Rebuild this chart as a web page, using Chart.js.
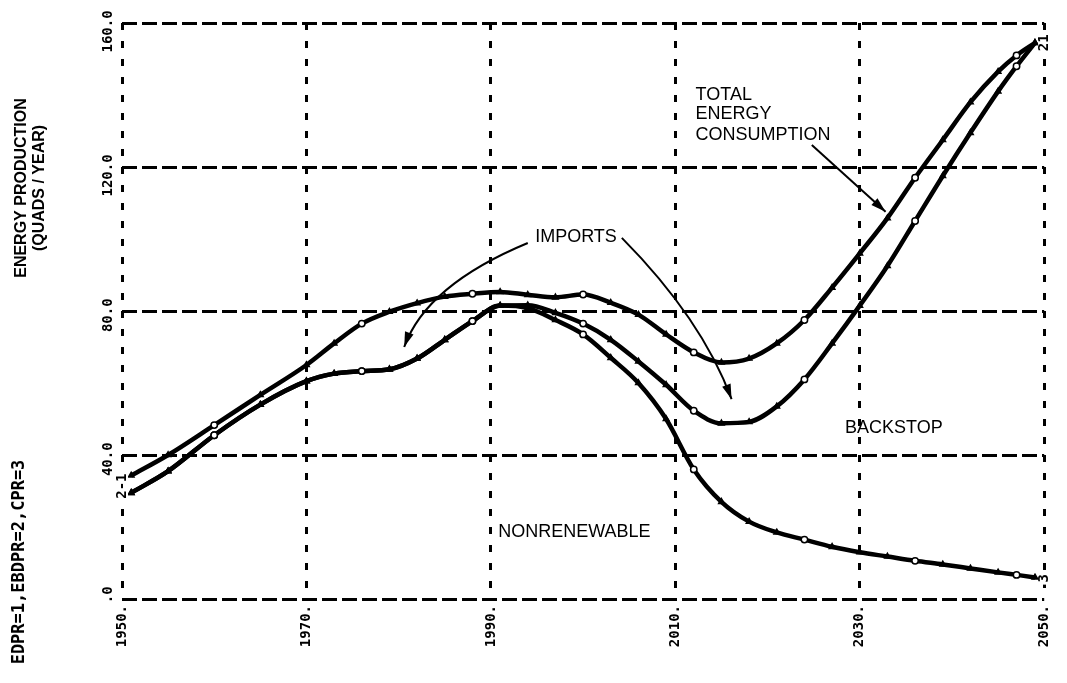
<!DOCTYPE html>
<html>
<head>
<meta charset="utf-8">
<script src="https://cdn.jsdelivr.net/npm/chart.js@4/dist/chart.umd.min.js"></script>
<style>
  html, body { margin: 0; padding: 0; background: #fff; }
  #wrap { width: 1067px; height: 683px; }
  canvas { display: block; }
</style>
</head>
<body>
<div id="wrap"><canvas id="c" width="1067" height="683"></canvas></div>
<script>
// Simulation years (x) shared by all three curves
const years = [1951, 1955, 1960, 1965, 1970, 1973, 1976, 1979, 1982, 1985, 1988, 1991,
               1994, 1997, 2000, 2003, 2006, 2009, 2012, 2015, 2018, 2021, 2024, 2027,
               2030, 2033, 2036, 2039, 2042, 2045, 2047, 2049];

// Curve 1: EDPR, total energy consumption (quads / year)
const totalConsumption = [34.3, 40, 48.3, 56.7, 65, 71, 76.5, 79.8, 82.2, 84, 84.8, 85.3,
                          84.5, 83.8, 84.6, 82.3, 79, 73.5, 68.5, 65.7, 66.8, 71, 77.5, 86.5,
                          96, 105.8, 117, 127.5, 138, 146.5, 151, 154.5];

// Curve 2: EBDPR, domestic production including backstop
const domesticWithBackstop = [29.5, 35.5, 45.5, 54, 60.5, 62.6, 63.3, 63.8, 66.8, 72, 77.2, 81.5,
                              81.6, 79.5, 76.5, 72, 66, 59.5, 52.3, 48.8, 49.2, 53.5, 61, 71,
                              81.5, 92.5, 105, 117.5, 129.5, 141, 148, 154.5];

// Curve 3: CPR, nonrenewable production
const nonrenewable = [29.5, 35.5, 45.5, 54, 60.5, 62.6, 63.3, 63.8, 66.8, 72, 77.2, 81.5,
                      80.8, 77.5, 73.5, 67, 60, 50, 36, 27, 21.5, 18.5, 16.5, 14.5,
                      13, 11.8, 10.6, 9.6, 8.5, 7.4, 6.7, 6];

// Axis ticks and their printed labels
const xTickValues = [1950, 1970, 1990, 2010, 2030, 2050];
const yTickValues = [0, 40, 80, 120, 160];
const yTickLabels = ['.0', '40.0', '80.0', '120.0', '160.0'];

const plotterFamily = '"DejaVu Sans Mono", monospace';
const labelFamily = '"Liberation Sans", Arial, sans-serif';

function series(values) {
  return years.map((yr, i) => ({ x: yr, y: values[i] }));
}

function curve(label, values) {
  return {
    label,
    data: series(values),
    borderColor: '#000',
    borderWidth: 4.5,
    cubicInterpolationMode: 'monotone',
    fill: false,
    pointRadius: 3.2,
    pointStyle: ctx => (ctx.dataIndex % 4 === 2 ? 'circle' : 'triangle'),
    pointBackgroundColor: ctx => (ctx.dataIndex % 4 === 2 ? '#fff' : '#000'),
    pointBorderColor: '#000',
    pointBorderWidth: 1.5
  };
}

// Text and arrow annotations, positioned in data units (year, quads/year)
const notes = [
  { text: 'IMPORTS', x: 1994.8, y: 100.6 },
  { text: 'TOTAL', x: 2012.2, y: 140.1 },
  { text: 'ENERGY', x: 2012.2, y: 134.6 },
  { text: 'CONSUMPTION', x: 2012.2, y: 129.0 },
  { text: 'BACKSTOP', x: 2028.4, y: 47.5 },
  { text: 'NONRENEWABLE', x: 1990.8, y: 18.6 }
];
const arrows = [
  { from: [1994.0, 98.9], ctrl: [1983.0, 87.2], to: [1980.6, 70.0] },
  { from: [2004.2, 100.3], ctrl: [2012.9, 77.8], to: [2016.1, 55.5] },
  { from: [2024.8, 126.1], ctrl: null, to: [2032.8, 107.6] }
];

function upText(ctx, txt, x, y, align) {
  ctx.save();
  ctx.translate(x, y);
  ctx.rotate(-Math.PI / 2);
  ctx.textAlign = align;
  ctx.textBaseline = 'middle';
  ctx.fillText(txt, 0, 0);
  ctx.restore();
}

function upTextBoxed(ctx, txt, x, y) {
  const w = ctx.measureText(txt).width;
  ctx.save();
  ctx.fillStyle = '#fff';
  ctx.fillRect(x - 6, y - w / 2 - 2, 12, w + 4);
  ctx.restore();
  upText(ctx, txt, x, y, 'center');
}

const decorations = {
  id: 'decorations',
  afterDraw(chart) {
    const ctx = chart.ctx;
    const xs = chart.scales.x, ys = chart.scales.y;
    const P = (a, b) => [xs.getPixelForValue(a), ys.getPixelForValue(b)];
    ctx.save();
    ctx.fillStyle = '#000';
    ctx.strokeStyle = '#000';

    // y tick labels, rotated, decimal point on the grid line
    ctx.font = 'bold 14px ' + plotterFamily;
    const w0 = ctx.measureText('0').width, wd = ctx.measureText('.').width;
    yTickValues.forEach((v, i) => {
      const y = ys.getPixelForValue(v);
      ctx.save();
      ctx.translate(chart.chartArea.left - 14, y);
      ctx.rotate(-Math.PI / 2);
      ctx.textAlign = 'right';
      ctx.textBaseline = 'middle';
      ctx.fillText(yTickLabels[i], w0 + wd / 2, 0);
      ctx.restore();
    });

    // curve identifiers at the axes
    const first = 0, last = years.length - 1;
    const yStart = (ys.getPixelForValue(totalConsumption[first]) + ys.getPixelForValue(domesticWithBackstop[first])) / 2;
    upTextBoxed(ctx, '2-1', xs.getPixelForValue(1950), yStart + 2);
    const yEnd = (ys.getPixelForValue(totalConsumption[last]) + ys.getPixelForValue(domesticWithBackstop[last])) / 2;
    upTextBoxed(ctx, '21', xs.getPixelForValue(2050), yEnd);
    upTextBoxed(ctx, '3', xs.getPixelForValue(2050), ys.getPixelForValue(nonrenewable[last]) + 1);

    // run identification
    ctx.font = 'bold 17px ' + plotterFamily;
    upText(ctx, 'EDPR=1,EBDPR=2,CPR=3', 20, 562, 'center');

    // y axis title
    ctx.font = 'bold 16px ' + labelFamily;
    upText(ctx, 'ENERGY PRODUCTION', 22, 188, 'center');
    upText(ctx, '(QUADS / YEAR)', 40, 188, 'center');

    // labels inside the plot
    ctx.font = '18px ' + labelFamily;
    ctx.textAlign = 'left';
    ctx.textBaseline = 'middle';
    notes.forEach(n => {
      const [x, y] = P(n.x, n.y);
      ctx.fillText(n.text, x, y);
    });

    // arrows
    ctx.lineWidth = 2;
    arrows.forEach(a => {
      const [x0, y0] = P(a.from[0], a.from[1]);
      const [x1, y1] = P(a.to[0], a.to[1]);
      let cx, cy;
      ctx.beginPath();
      ctx.moveTo(x0, y0);
      if (a.ctrl) {
        [cx, cy] = P(a.ctrl[0], a.ctrl[1]);
        ctx.quadraticCurveTo(cx, cy, x1, y1);
      } else {
        cx = x0; cy = y0;
        ctx.lineTo(x1, y1);
      }
      ctx.stroke();
      const ang = Math.atan2(y1 - cy, x1 - cx);
      const L = 15, W = 4.5;
      ctx.beginPath();
      ctx.moveTo(x1, y1);
      ctx.lineTo(x1 - L * Math.cos(ang) + W * Math.sin(ang), y1 - L * Math.sin(ang) - W * Math.cos(ang));
      ctx.lineTo(x1 - L * Math.cos(ang) - W * Math.sin(ang), y1 - L * Math.sin(ang) + W * Math.cos(ang));
      ctx.closePath();
      ctx.fill();
    });
    ctx.restore();
  }
};

new Chart(document.getElementById('c'), {
  type: 'line',
  data: {
    datasets: [
      curve('EDPR', totalConsumption),
      curve('EBDPR', domesticWithBackstop),
      curve('CPR', nonrenewable)
    ]
  },
  options: {
    responsive: false,
    animation: false,
    devicePixelRatio: 1,
    layout: { autoPadding: false, padding: { left: 0, top: 23, right: 7, bottom: 0 } },
    plugins: { legend: { display: false }, tooltip: { enabled: false } },
    scales: {
      x: {
        type: 'linear',
        min: 1950,
        max: 2050,
        afterBuildTicks: s => { s.ticks = xTickValues.map(v => ({ value: v })); },
        afterFit: s => { s.height = 84; },
        ticks: {
          autoSkip: false,
          minRotation: 90,
          maxRotation: 90,
          padding: 6,
          color: '#000',
          font: { family: plotterFamily, weight: 'bold', size: 14 },
          callback: v => v + '.'
        },
        grid: { color: '#000', lineWidth: 3, drawTicks: false },
        border: { display: false, dash: [7, 11] }
      },
      y: {
        type: 'linear',
        min: 0,
        max: 160,
        afterBuildTicks: s => { s.ticks = yTickValues.map(v => ({ value: v })); },
        afterFit: s => { s.width = 122; },
        ticks: { display: false },
        grid: { color: '#000', lineWidth: 3, drawTicks: false },
        border: { display: false, dash: [15, 5] }
      }
    }
  },
  plugins: [decorations]
});
</script>
</body>
</html>
